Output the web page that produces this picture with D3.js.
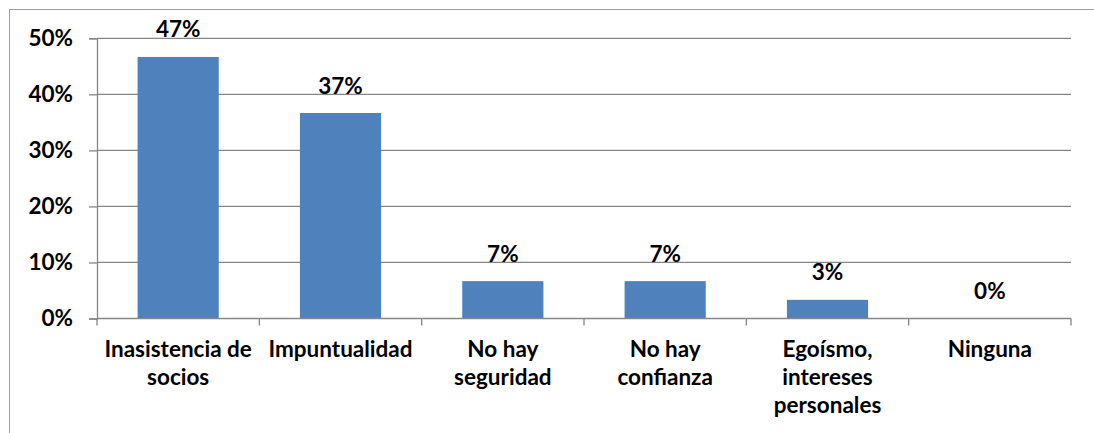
<!DOCTYPE html>
<html><head><meta charset="utf-8">
<script src="https://cdn.jsdelivr.net/npm/d3@7"></script>
<style>body{margin:0;background:#fff}svg{display:block}text{font-family:Lato,"Open Sans",sans-serif;font-weight:bold;fill:#000}</style>
</head><body><svg id="c" width="1094" height="433"></svg>
<script>
const categories = [["Inasistencia de","socios"],["Impuntualidad"],["No hay","seguridad"],["No hay","confianza"],["Egoísmo,","intereses","personales"],["Ninguna"]];
const values = [0.4667, 0.3667, 0.0667, 0.0667, 0.0333, 0];
const valueLabels = ["47%","37%","7%","7%","3%","0%"];
const yTicks = [0, 0.1, 0.2, 0.3, 0.4, 0.5];
const yTickLabels = ["0%","10%","20%","30%","40%","50%"];

(function(){
const svg = d3.select("#c");
const fs = 22.5;
const mLeft = 97, mRight = 1071, mTop = 38.3, mBottom = 318.5;
svg.append("rect").attr("x",9.5).attr("y",9.5).attr("width",1110).attr("height",440)
  .attr("fill","none").attr("stroke","#a0a0a0").attr("stroke-width",1);

const x = d3.scaleBand().domain(d3.range(categories.length)).range([mLeft,mRight]).paddingInner(0.5).paddingOuter(0.25);
const xb = d3.scaleBand().domain(d3.range(categories.length)).range([mLeft,mRight]);
const y = d3.scaleLinear().domain([0,0.5]).range([mBottom,mTop]);

svg.append("g").selectAll("line").data(yTicks.slice(1)).join("line")
  .attr("x1",mLeft).attr("x2",mRight).attr("y1",d=>y(d)).attr("y2",d=>y(d))
  .attr("stroke","#868686").attr("stroke-width",1.3);

svg.append("g").selectAll("rect").data(values).join("rect")
  .attr("x",(d,i)=>x(i)).attr("width",x.bandwidth())
  .attr("y",d=>y(d)).attr("height",d=>mBottom-y(d)).attr("fill","#4F81BD");

const ya = svg.append("g").attr("transform",`translate(${mLeft},0)`)
  .call(d3.axisLeft(y).tickValues(yTicks).tickFormat((d,i)=>yTickLabels[i]).tickSize(8).tickPadding(16));
ya.select(".domain").attr("stroke","#868686").attr("stroke-width",1.3);
ya.selectAll(".tick line").attr("stroke","#868686").attr("stroke-width",1.3);
ya.selectAll("text").attr("font-size",fs).attr("font-family","Lato").attr("font-weight","bold").attr("fill","#000");

const xa = svg.append("g").attr("transform",`translate(0,${mBottom})`);
xa.append("line").attr("x1",mLeft).attr("x2",mRight).attr("stroke","#868686").attr("stroke-width",1.3);
xa.selectAll(".t").data(d3.range(categories.length+1)).join("line").attr("class","t")
  .attr("x1",i=>mLeft+i*xb.bandwidth()).attr("x2",i=>mLeft+i*xb.bandwidth())
  .attr("y1",0).attr("y2",7).attr("stroke","#868686").attr("stroke-width",1.3);
xa.selectAll(".lab").data(categories).join("text").attr("class","lab")
  .attr("text-anchor","middle").attr("font-size",fs)
  .attr("transform",(d,i)=>`translate(${xb(i)+xb.bandwidth()/2},0)`)
  .selectAll("tspan").data(d=>d).join("tspan")
  .attr("x",0).attr("y",(d,j)=>38.2+j*28.3).text(d=>d);

svg.append("g").selectAll("text").data(values).join("text")
  .attr("x",(d,i)=>x(i)+x.bandwidth()/2).attr("y",d=>y(d)-19.5)
  .attr("text-anchor","middle").attr("font-size",fs).text((d,i)=>valueLabels[i]);
})();
</script></body></html>
